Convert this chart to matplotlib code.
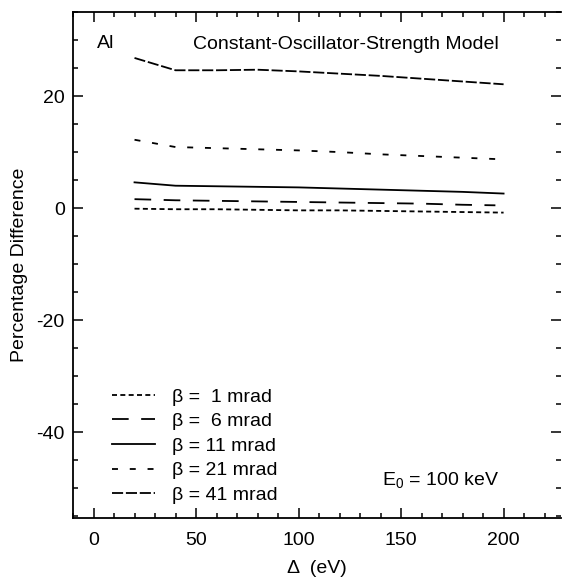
import matplotlib
matplotlib.use("Agg")
import matplotlib.pyplot as plt
from matplotlib.ticker import MultipleLocator

plt.rcParams['font.family'] = ['Liberation Sans', 'DejaVu Sans']
plt.rcParams['mathtext.fontset'] = 'custom'
plt.rcParams['mathtext.rm'] = 'Liberation Sans'
plt.rcParams['lines.scale_dashes'] = False
plt.rcParams['axes.unicode_minus'] = False

# energy window width (eV)
delta = [20, 40, 60, 80, 100, 120, 140, 160, 180, 200]
delta6 = [20, 40, 60, 80, 100, 120, 140, 160, 180, 196]

# percentage difference for each collection angle
b1 = [-0.1, -0.2, -0.2, -0.3, -0.4, -0.4, -0.5, -0.6, -0.7, -0.8]
b6 = [1.6, 1.4, 1.3, 1.2, 1.1, 1.0, 0.9, 0.8, 0.6, 0.5]
b11 = [4.6, 4.0, 3.9, 3.8, 3.7, 3.5, 3.3, 3.1, 2.9, 2.6]
b21 = [12.2, 10.9, 10.7, 10.5, 10.3, 10.0, 9.6, 9.3, 9.0, 8.7]
b41 = [26.8, 24.6, 24.6, 24.7, 24.4, 24.0, 23.6, 23.1, 22.6, 22.1]

labels = ["\u03b2 =  1 mrad", "\u03b2 =  6 mrad", "\u03b2 = 11 mrad",
          "\u03b2 = 21 mrad", "\u03b2 = 41 mrad"]

fs = 14
fig = plt.figure(figsize=(5.62, 5.77), dpi=100)
ax = fig.add_axes([73/562, 1 - 518/577, (561 - 73)/562, (518 - 12)/577])

lw = 1.3
ax.plot(delta, b1, color='black', lw=lw, dashes=(3.6, 2.4), label=labels[0])
ax.plot(delta6, b6, color='black', lw=lw, dashes=(12, 9), label=labels[1])
ax.plot(delta, b11, color='black', lw=lw, label=labels[2])
ax.plot(delta, b21, color='black', lw=lw, dashes=(4.3, 8.5), label=labels[3])
ax.plot(delta, b41, color='black', lw=lw, dashes=(8, 2), label=labels[4])

ax.set_xlim(-10, 228)
ax.set_ylim(-55.3, 35)
ax.xaxis.set_major_locator(MultipleLocator(50))
ax.xaxis.set_minor_locator(MultipleLocator(10))
ax.yaxis.set_major_locator(MultipleLocator(20))
ax.yaxis.set_minor_locator(MultipleLocator(5))
ax.tick_params(which='both', direction='in', top=True, right=True,
               labelsize=fs, width=1.1, pad=6)
ax.tick_params(axis='x', which='both', pad=10)
ax.tick_params(which='major', length=7)
ax.tick_params(which='minor', length=3.5)
ax.spines['right'].set_visible(False)
for s in ['left', 'bottom', 'top']:
    ax.spines[s].set_linewidth(1.3)

ax.set_xlabel("\u0394  (eV)", fontsize=fs, labelpad=8)
ax.set_ylabel("Percentage Difference", fontsize=fs, labelpad=6)

ax.text(0.05, 0.955, "Al", transform=ax.transAxes, fontsize=fs, va='top')
ax.text(0.56, 0.953, "Constant-Oscillator-Strength Model", transform=ax.transAxes,
        fontsize=fs, va='top', ha='center')
ax.text(0.633, 0.073, r"E$_\mathregular{0}$ = 100 keV", transform=ax.transAxes,
        fontsize=fs, va='center', ha='left')

ax.legend(loc='upper left', bbox_to_anchor=(0.08, 0.257), frameon=False,
          fontsize=fs, handlelength=2.2, handletextpad=0.9, labelspacing=0.36,
          borderpad=0, borderaxespad=0)

fig.savefig("out.png", dpi=100)
